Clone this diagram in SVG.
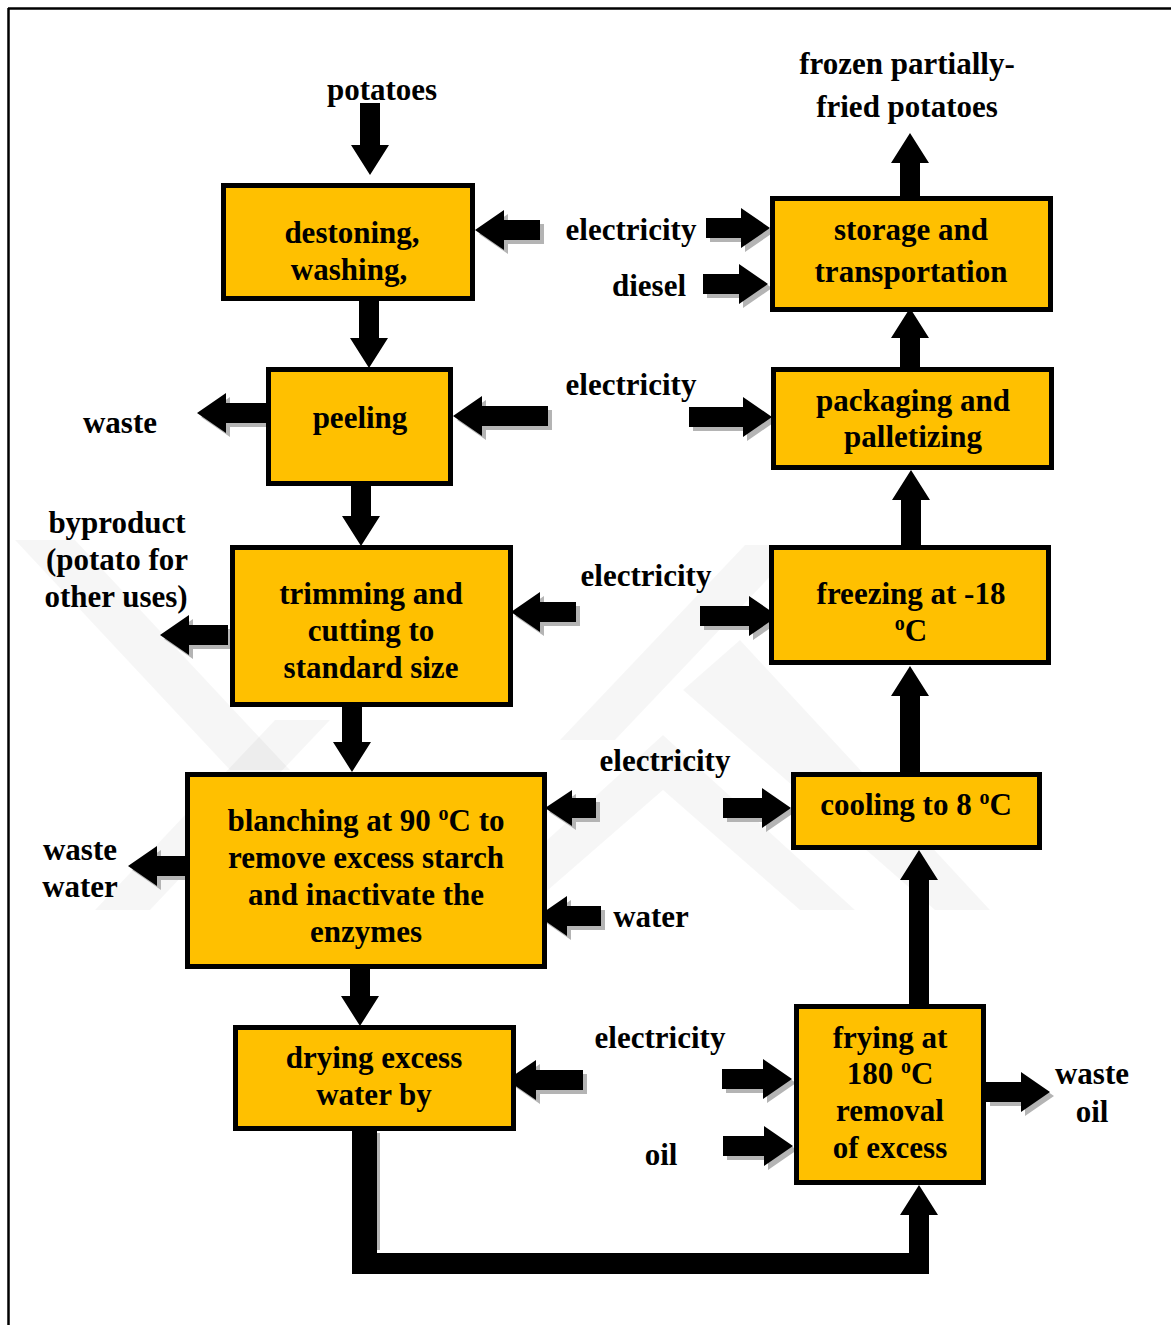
<svg xmlns="http://www.w3.org/2000/svg" width="1171" height="1325" viewBox="0 0 1171 1325">
<style>
.box{fill:#FFC000;stroke:#000;stroke-width:5}
.t{font-family:"Liberation Serif","Times New Roman",serif;font-weight:bold;font-size:31px;text-anchor:middle;fill:#000}
.arr{fill:#000}
.sh{fill:#b4b4b4}
.wm{fill:#000;opacity:0.035}
.sup{font-size:20px}
</style>
<rect x="0" y="0" width="1171" height="1325" fill="#fff"/>
<g id="frame" stroke="#000" stroke-width="2.5" fill="none">
<line x1="8" y1="8.5" x2="1171" y2="8.5"/>
<line x1="8.5" y1="8" x2="8.5" y2="1325"/>
</g>
<g id="watermark">
<polygon class="wm" points="15,540 75,540 290,770 230,770"/>
<polygon class="wm" points="95,910 150,910 330,720 275,720"/>
<polygon class="wm" points="470,910 525,910 663,790 800,910 855,910 663,735"/>
<polygon class="wm" points="560,740 615,740 800,545 745,545"/>
<polygon class="wm" points="683,690 740,640 990,910 935,910"/>
</g>
<g id="connectors">
<g class="sh" transform="translate(4,4)">
<polygon points="475,230 504,210 504,220 540,220 540,240 504,240 504,250"/>
<polygon points="770,228 741,208 741,218 706,218 706,238 741,238 741,248"/>
<polygon points="768,284 739,264 739,274 703,274 703,294 739,294 739,304"/>
<polygon points="453,416 482,396 482,406 548,406 548,426 482,426 482,436"/>
<polygon points="197,413 226,393 226,403 266,403 266,423 226,423 226,433"/>
<polygon points="772,417 743,397 743,407 689,407 689,427 743,427 743,437"/>
<polygon points="511,612 540,592 540,602 576,602 576,622 540,622 540,632"/>
<polygon points="160,635 189,615 189,625 228,625 228,645 189,645 189,655"/>
<polygon points="778,616 749,596 749,606 700,606 700,626 749,626 749,636"/>
<polygon points="545,808 572,790 572,798 596,798 596,818 572,818 572,826"/>
<polygon points="791,808 762,788 762,798 723,798 723,818 762,818 762,828"/>
<polygon points="128,866 157,846 157,856 190,856 190,876 157,876 157,886"/>
<polygon points="538,916 567,896 567,906 601,906 601,926 567,926 567,936"/>
<polygon points="507,1080 536,1060 536,1070 583,1070 583,1090 536,1090 536,1100"/>
<polygon points="792,1079 763,1059 763,1069 722,1069 722,1089 763,1089 763,1099"/>
<polygon points="793,1146 764,1126 764,1136 723,1136 723,1156 764,1156 764,1166"/>
<polygon points="1050,1092 1021,1072 1021,1082 986,1082 986,1102 1021,1102 1021,1112"/>
</g>
<g class="arr">
<polygon points="475,230 504,210 504,220 540,220 540,240 504,240 504,250"/>
<polygon points="770,228 741,208 741,218 706,218 706,238 741,238 741,248"/>
<polygon points="768,284 739,264 739,274 703,274 703,294 739,294 739,304"/>
<polygon points="453,416 482,396 482,406 548,406 548,426 482,426 482,436"/>
<polygon points="197,413 226,393 226,403 266,403 266,423 226,423 226,433"/>
<polygon points="772,417 743,397 743,407 689,407 689,427 743,427 743,437"/>
<polygon points="511,612 540,592 540,602 576,602 576,622 540,622 540,632"/>
<polygon points="160,635 189,615 189,625 228,625 228,645 189,645 189,655"/>
<polygon points="778,616 749,596 749,606 700,606 700,626 749,626 749,636"/>
<polygon points="545,808 572,790 572,798 596,798 596,818 572,818 572,826"/>
<polygon points="791,808 762,788 762,798 723,798 723,818 762,818 762,828"/>
<polygon points="128,866 157,846 157,856 190,856 190,876 157,876 157,886"/>
<polygon points="538,916 567,896 567,906 601,906 601,926 567,926 567,936"/>
<polygon points="507,1080 536,1060 536,1070 583,1070 583,1090 536,1090 536,1100"/>
<polygon points="792,1079 763,1059 763,1069 722,1069 722,1089 763,1089 763,1099"/>
<polygon points="793,1146 764,1126 764,1136 723,1136 723,1156 764,1156 764,1166"/>
<polygon points="1050,1092 1021,1072 1021,1082 986,1082 986,1102 1021,1102 1021,1112"/>
<polygon points="360,103 380,103 380,145 389,145 370,175 351,145 360,145"/>
<polygon points="359,301 379,301 379,338 388,338 369,368 350,338 359,338"/>
<polygon points="351,486 371,486 371,516 380,516 361,546 342,516 351,516"/>
<polygon points="342,707 362,707 362,742 371,742 352,772 333,742 342,742"/>
<polygon points="350,969 370,969 370,996 379,996 360,1026 341,996 350,996"/>
<polygon points="909,1004 929,1004 929,880 938,880 919,850 900,880 909,880"/>
<polygon points="900,772 920,772 920,696 929,696 910,666 891,696 900,696"/>
<polygon points="901,545 921,545 921,500 930,500 911,470 892,500 901,500"/>
<polygon points="900,367 920,367 920,338 929,338 910,308 891,338 900,338"/>
<polygon points="900,196 920,196 920,163 929,163 910,133 891,163 900,163"/>
<polygon class="sh" points="377,1133 380,1133 380,1250 377,1250"/>
<path d="M352,1131 L377,1131 L377,1253 L909,1253 L909,1215 L900,1215 L919,1185 L938,1215 L929,1215 L929,1274 L352,1274 Z"/>
</g>
</g>
<g id="destoning"><rect class="box" x="223.5" y="185.5" width="249" height="113"/><text class="t" x="352" y="243">destoning,</text><text class="t" x="349" y="280">washing,</text></g>
<g id="peeling"><rect class="box" x="268.5" y="369.5" width="182" height="114"/><text class="t" x="360" y="428">peeling</text></g>
<g id="trimming"><rect class="box" x="232.5" y="547.5" width="278" height="157"/><text class="t" x="371" y="604">trimming and</text><text class="t" x="371" y="641">cutting to</text><text class="t" x="371" y="678">standard size</text></g>
<g id="blanching"><rect class="box" x="187.5" y="774.5" width="357" height="192"/><text class="t" x="366" y="831">blanching at 90 <tspan class="sup" dy="-11">o</tspan><tspan dy="11">C to</tspan></text><text class="t" x="366" y="868">remove excess starch</text><text class="t" x="366" y="905">and inactivate the</text><text class="t" x="366" y="942">enzymes</text></g>
<g id="drying"><rect class="box" x="235.5" y="1027.5" width="278" height="101"/><text class="t" x="374" y="1068">drying excess</text><text class="t" x="374" y="1105">water by</text></g>
<g id="storage"><rect class="box" x="772.5" y="198.5" width="278" height="111"/><text class="t" x="911" y="240">storage and</text><text class="t" x="911" y="282">transportation</text></g>
<g id="packaging"><rect class="box" x="773.5" y="369.5" width="278" height="98"/><text class="t" x="913" y="411">packaging and</text><text class="t" x="913" y="447">palletizing</text></g>
<g id="freezing"><rect class="box" x="771.5" y="547.5" width="277" height="115"/><text class="t" x="911" y="604">freezing at -18</text><text class="t" x="911" y="641"><tspan class="sup" dy="-11">o</tspan><tspan dy="11">C</tspan></text></g>
<g id="cooling"><rect class="box" x="793.5" y="774.5" width="246" height="73"/><text class="t" x="916" y="815">cooling to 8 <tspan class="sup" dy="-11">o</tspan><tspan dy="11">C</tspan></text></g>
<g id="frying"><rect class="box" x="796.5" y="1006.5" width="187" height="176"/><text class="t" x="890" y="1048">frying at</text><text class="t" x="890" y="1084">180 <tspan class="sup" dy="-11">o</tspan><tspan dy="11">C</tspan></text><text class="t" x="890" y="1121">removal</text><text class="t" x="890" y="1158">of excess</text></g>
<g id="labels">
<text class="t" x="382" y="100">potatoes</text>
<text class="t" x="907" y="74">frozen partially-</text>
<text class="t" x="907" y="117">fried potatoes</text>
<text class="t" x="631" y="240">electricity</text>
<text class="t" x="649" y="296">diesel</text>
<text class="t" x="631" y="395">electricity</text>
<text class="t" x="120" y="433">waste</text>
<text class="t" x="117" y="533">byproduct</text>
<text class="t" x="117" y="570">(potato for</text>
<text class="t" x="116" y="607">other uses)</text>
<text class="t" x="646" y="586">electricity</text>
<text class="t" x="665" y="771">electricity</text>
<text class="t" x="80" y="860">waste</text>
<text class="t" x="80" y="897">water</text>
<text class="t" x="651" y="927">water</text>
<text class="t" x="660" y="1048">electricity</text>
<text class="t" x="661" y="1165">oil</text>
<text class="t" x="1092" y="1084">waste</text>
<text class="t" x="1092" y="1122">oil</text>
</g>
</svg>
